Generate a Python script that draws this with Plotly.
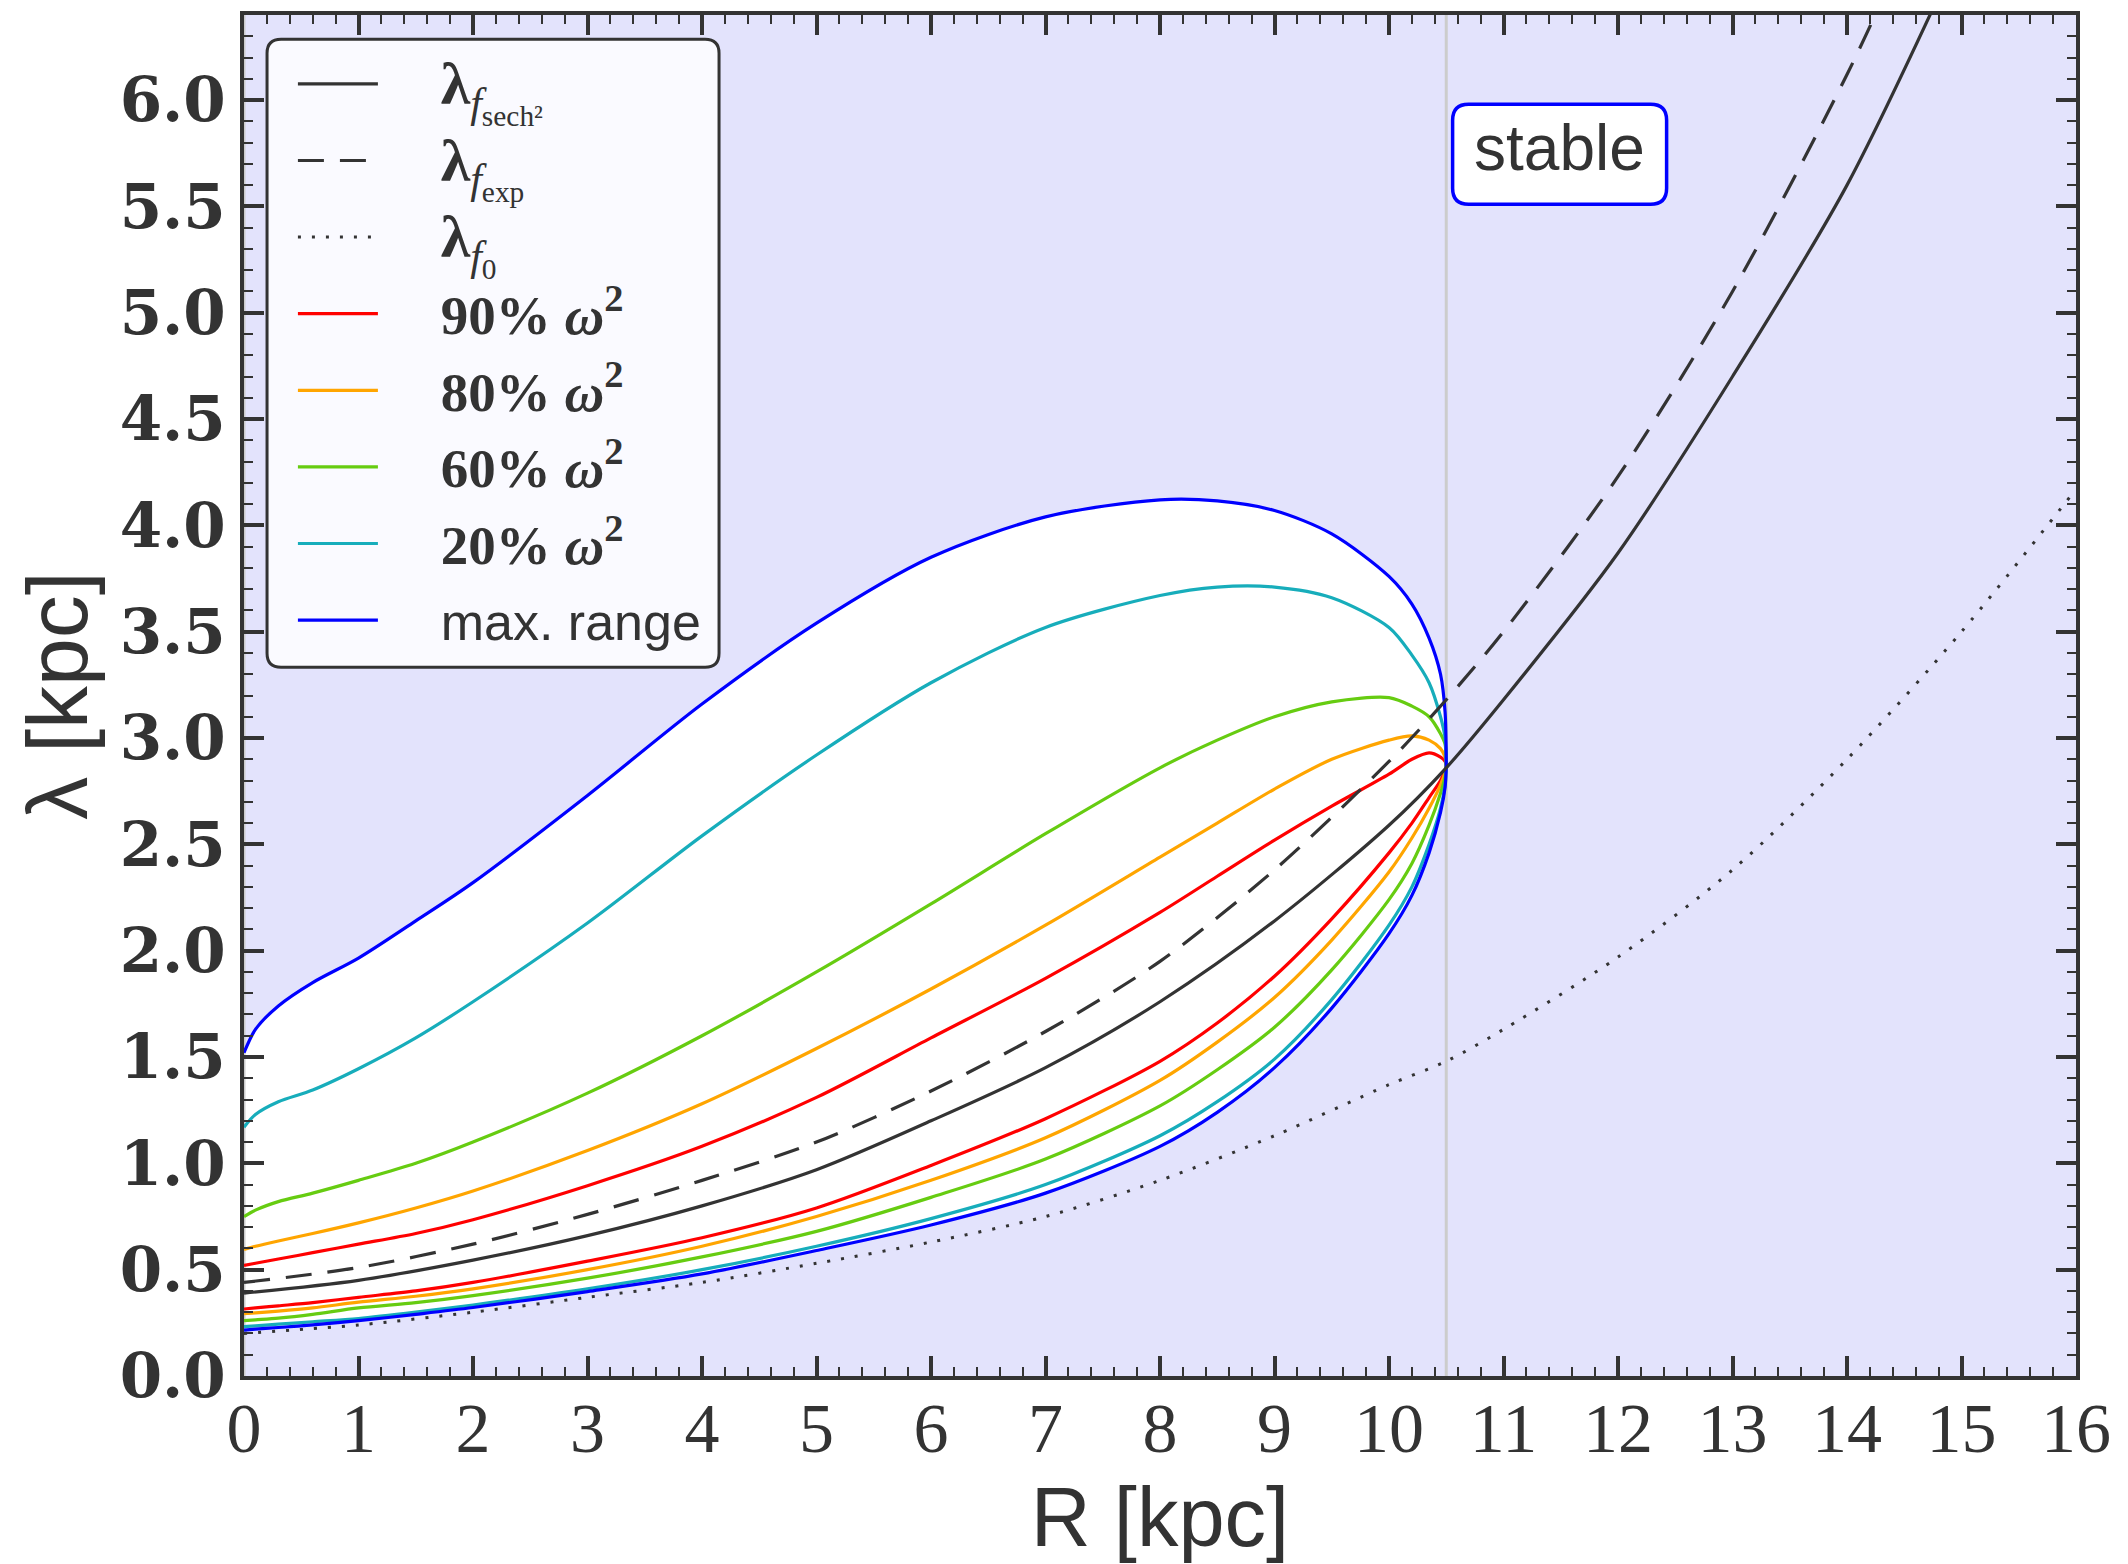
import plotly.graph_objects as go

# ---------------- data ----------------
R_branch = [0.0, 0.1, 0.3, 0.6, 1.0, 1.5, 2.0, 3.0, 4.0, 5.0, 6.0, 7.0, 8.0, 8.5,
            9.0, 9.5, 10.0, 10.2, 10.35, 10.45, 10.49, 10.5]

max_upper = [1.52, 1.63, 1.74, 1.85, 1.965, 2.14, 2.32, 2.73, 3.16, 3.54, 3.85, 4.04, 4.12, 4.115,
             4.07, 3.96, 3.76, 3.63, 3.47, 3.30, 3.12, 2.88]
max_lower = [0.216, 0.22, 0.228, 0.24, 0.26, 0.29, 0.322, 0.397, 0.48, 0.59, 0.71, 0.86, 1.08, 1.24,
             1.45, 1.73, 2.08, 2.26, 2.46, 2.65, 2.77, 2.87]
p20_upper = [1.17, 1.23, 1.29, 1.345, 1.445, 1.59, 1.76, 2.13, 2.54, 2.92, 3.26, 3.52, 3.67, 3.71,
             3.71, 3.66, 3.52, 3.39, 3.26, 3.10, 3.00, 2.88]
p20_lower = [0.232, 0.236, 0.244, 0.255, 0.27, 0.30, 0.334, 0.41, 0.50, 0.61, 0.74, 0.90, 1.13, 1.29,
             1.49, 1.77, 2.12, 2.30, 2.50, 2.67, 2.78, 2.87]
p60_upper = [0.75, 0.78, 0.82, 0.86, 0.92, 1.00, 1.10, 1.33, 1.60, 1.90, 2.22, 2.55, 2.86, 2.99,
             3.10, 3.17, 3.19, 3.15, 3.10, 3.02, 2.97, 2.88]
p60_lower = [0.26, 0.264, 0.272, 0.29, 0.32, 0.345, 0.378, 0.46, 0.56, 0.68, 0.84, 1.02, 1.27, 1.44,
             1.64, 1.91, 2.24, 2.41, 2.59, 2.74, 2.82, 2.87]
p80_upper = [0.595, 0.61, 0.635, 0.67, 0.72, 0.79, 0.87, 1.06, 1.28, 1.54, 1.82, 2.12, 2.44, 2.60,
             2.76, 2.90, 2.99, 3.01, 2.99, 2.95, 2.91, 2.88]
p80_lower = [0.293, 0.297, 0.305, 0.32, 0.347, 0.375, 0.41, 0.50, 0.61, 0.75, 0.92, 1.12, 1.39, 1.57,
             1.78, 2.05, 2.37, 2.53, 2.67, 2.78, 2.84, 2.87]
p90_upper = [0.52, 0.53, 0.55, 0.58, 0.62, 0.67, 0.735, 0.895, 1.08, 1.31, 1.59, 1.87, 2.18, 2.35,
             2.52, 2.68, 2.83, 2.90, 2.93, 2.91, 2.89, 2.87]
p90_lower = [0.315, 0.32, 0.33, 0.345, 0.37, 0.40, 0.44, 0.54, 0.65, 0.79, 0.99, 1.21, 1.48, 1.66,
             1.88, 2.15, 2.46, 2.60, 2.72, 2.80, 2.85, 2.87]

R_sech2 = [0, 1, 2, 3, 4, 5, 6, 7, 8, 9, 10, 10.5, 11, 12, 13, 14, 15]
lam_sech2 = [0.39, 0.45, 0.545, 0.66, 0.80, 0.97, 1.20, 1.45, 1.76, 2.14, 2.59, 2.86, 3.18, 3.87,
             4.70, 5.60, 6.72]
R_exp = [0, 1, 2, 3, 4, 5, 6, 7, 8, 9, 10, 10.5, 11, 12, 13, 14, 14.5]
lam_exp = [0.44, 0.51, 0.62, 0.76, 0.92, 1.10, 1.34, 1.62, 1.95, 2.38, 2.89, 3.18, 3.50, 4.23,
           5.10, 6.12, 6.70]
R_f0 = [0, 1, 2, 3, 4, 5, 6, 7, 8, 9, 10, 10.5, 11, 12, 13, 14, 15, 16]
lam_f0 = [0.20, 0.24, 0.30, 0.37, 0.44, 0.53, 0.63, 0.75, 0.92, 1.13, 1.37, 1.48, 1.63, 1.97,
          2.38, 2.90, 3.50, 4.17]

R_stable_limit = 10.5
x_range = [0, 16]
y_range = [0, 6.4]

# ---------------- styling ----------------
INK = "#333333"
BG = "#e3e3fc"
SERIF = "Liberation Serif"
SANS = "Liberation Sans"
GAP = "\u00a0" * 4


def lam_label(sub):
    return (GAP + "<span style='font-family:" + SERIF + ";font-size:60px'><b>λ</b><sub><i>f</i>"
            "<sub>" + sub + "</sub></sub></span>")


def pct_label(p):
    return (GAP + "<span style='font-family:" + SERIF + ";font-size:55px'><b>" + p +
            "% <i>ω</i><sup>2</sup></b></span>")


series_names = {
    "sech2": lam_label("sech²"),
    "exp": lam_label("exp"),
    "f0": lam_label("0"),
    "p90": pct_label("90"),
    "p80": pct_label("80"),
    "p60": pct_label("60"),
    "p20": pct_label("20"),
    "max": GAP + "max. range",
}


def loop(lower, upper):
    return R_branch + R_branch[::-1], lower + upper[::-1]


SMOOTH = 0.85
fig = go.Figure()

# white region enclosed by the max range curves
lx, ly = loop(max_lower, max_upper)
fig.add_trace(go.Scatter(x=lx, y=ly, mode="lines", fill="toself", fillcolor="white",
                         line=dict(width=0, color="white", shape="spline", smoothing=SMOOTH),
                         showlegend=False, hoverinfo="skip"))

# thin grey vertical reference lines
for xv in [x_range[0], R_stable_limit]:
    fig.add_trace(go.Scatter(x=[xv, xv], y=y_range, mode="lines",
                             line=dict(color="#cccccc", width=3),
                             showlegend=False, hoverinfo="skip"))

colored = [
    ("p90", p90_lower, p90_upper, "#ff0000", 4),
    ("p80", p80_lower, p80_upper, "#ffa500", 5),
    ("p60", p60_lower, p60_upper, "#66cc11", 6),
    ("p20", p20_lower, p20_upper, "#17adbb", 7),
    ("max", max_lower, max_upper, "#0000ff", 8),
]
for key, lo, up, col, rank in colored:
    x, y = loop(lo, up)
    fig.add_trace(go.Scatter(x=x, y=y, mode="lines", name=series_names[key], legendgroup=key,
                             line=dict(color=col, width=3.2, shape="spline", smoothing=SMOOTH),
                             legendrank=rank))

fig.add_trace(go.Scatter(x=R_f0, y=lam_f0, mode="lines", name=series_names["f0"], legendgroup="f0",
                         line=dict(color=INK, width=3, dash="3px,11px", shape="spline", smoothing=SMOOTH),
                         legendrank=3))
fig.add_trace(go.Scatter(x=R_exp, y=lam_exp, mode="lines", name=series_names["exp"], legendgroup="exp",
                         line=dict(color=INK, width=3.2, dash="26px,16px", shape="spline", smoothing=SMOOTH),
                         legendrank=2))
fig.add_trace(go.Scatter(x=R_sech2, y=lam_sech2, mode="lines", name=series_names["sech2"],
                         legendgroup="sech2",
                         line=dict(color=INK, width=3.2, shape="spline", smoothing=SMOOTH),
                         legendrank=1))


def rounded_box(w, h, r):
    return (f"M {-w + r},{-h} L {w - r},{-h} Q {w},{-h} {w},{-h + r} L {w},{h - r} Q {w},{h} {w - r},{h} "
            f"L {-w + r},{h} Q {-w},{h} {-w},{h - r} L {-w},{-h + r} Q {-w},{-h} {-w + r},{-h} Z")


# legend frame (rounded)
fig.add_shape(type="path", xref="x", yref="y", xsizemode="pixel", ysizemode="pixel",
              xanchor=2.175, yanchor=4.809, path=rounded_box(226, 314, 14),
              fillcolor="#fafaff", line=dict(color=INK, width=3), layer="above")

# "stable" label with rounded box
ax_c, ay_c = 11.49, 5.745
fig.add_shape(type="path", xref="x", yref="y", xsizemode="pixel", ysizemode="pixel",
              xanchor=ax_c, yanchor=ay_c, path=rounded_box(107, 50, 16), fillcolor="white",
              line=dict(color="#0000ff", width=3.5), layer="above")
fig.add_annotation(x=ax_c, y=ay_c, xref="x", yref="y", text="stable", showarrow=False,
                   font=dict(family=SANS, size=64, color=INK), yshift=6)

axis_common = dict(
    showline=True, linecolor=INK, linewidth=4, mirror="allticks",
    ticks="inside", ticklen=20, tickwidth=4, tickcolor=INK,
    showgrid=False, zeroline=False,
    minor=dict(ticks="inside", ticklen=9, tickwidth=2, tickcolor=INK, showgrid=False),
)

fig.update_xaxes(range=x_range, dtick=1, tick0=0, minor_dtick=0.2,
                 tickfont=dict(family=SERIF, size=70, color=INK),
                 ticklabelstandoff=-12,
                 title=dict(text="R [kpc]", font=dict(family=SANS, size=83, color=INK), standoff=28),
                 **axis_common)
fig.update_yaxes(range=y_range, dtick=0.5, tick0=0, minor_dtick=0.1, tickformat=".1f",
                 tickfont=dict(family="DejaVu Serif", size=61, color=INK, weight="bold"),
                 ticklabelstandoff=2,
                 title=dict(text="λ [kpc]", font=dict(family=SANS, size=86, color=INK), standoff=5),
                 **axis_common)

fig.update_layout(
    width=2128, height=1564,
    margin=dict(l=244, r=52, t=11, b=180),
    paper_bgcolor="white", plot_bgcolor=BG,
    showlegend=True,
    legend=dict(x=0.0267, y=0.979, xanchor="left", yanchor="top",
                bgcolor="rgba(0,0,0,0)", borderwidth=0,
                font=dict(family=SANS, size=52, color=INK),
                itemwidth=80, traceorder="grouped", tracegroupgap=6),
)

fig.write_html("out.html", config={"displayModeBar": False},
               post_script="document.body.style.margin='0';")
